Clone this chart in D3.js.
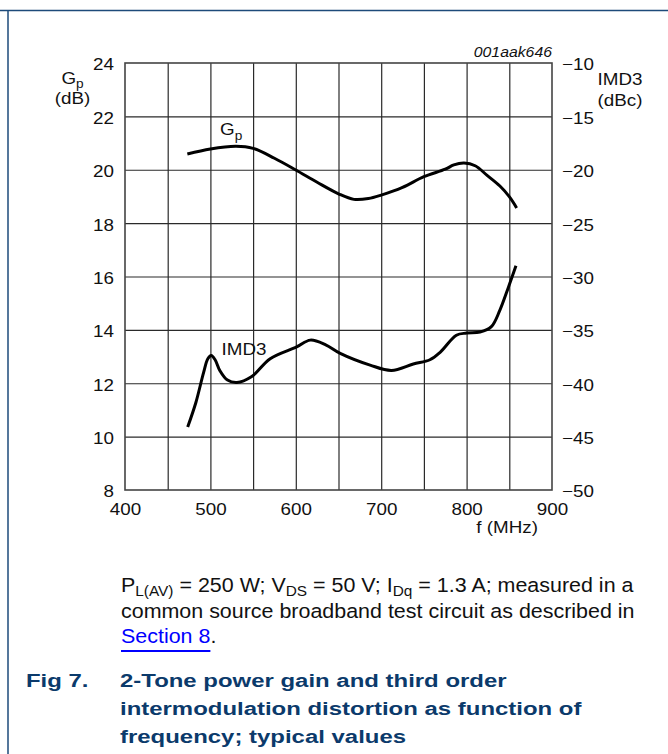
<!DOCTYPE html>
<html>
<head>
<meta charset="utf-8">
<script src="https://cdn.jsdelivr.net/npm/d3@7"></script>
<style>
  body { margin: 0; background: #fff; }
  text { font-family: "Liberation Sans", Arial, sans-serif; fill: #111; }
</style>
</head>
<body>
<div id="chart"></div>
<script>
// axis ticks
var freqTicks = [400, 500, 600, 700, 800, 900];
var freqGrid = [450, 500, 550, 600, 650, 700, 750, 800, 850];
var gpTicks = [8, 10, 12, 14, 16, 18, 20, 22, 24];
var gpGrid = [10, 12, 14, 16, 18, 20, 22];
var imdTicks = [-10, -15, -20, -25, -30, -35, -40, -45, -50];

// Gp (dB) vs f (MHz)
var gpFreq = [473, 500, 530, 550, 575, 600, 625, 650, 668, 685, 700, 725, 750, 775, 785, 797, 810, 824, 839, 850, 858.6];
var gpVal  = [20.59, 20.78, 20.88, 20.8, 20.43, 19.99, 19.53, 19.1, 18.89, 18.92, 19.05, 19.34, 19.74, 20.02, 20.18, 20.25, 20.15, 19.79, 19.39, 18.99, 18.57];

// IMD3 (dBc) vs f (MHz)
var imdFreq = [473.4, 483, 492, 497, 501, 505.5, 511, 520, 531, 548, 570, 601, 617, 635, 652, 687, 712, 737.6, 757, 769, 788, 800, 815.7, 829, 839, 849, 857.8];
var imdVal  = [-44.1, -41.8, -39.0, -37.7, -37.4, -37.8, -38.8, -39.7, -39.93, -39.4, -37.7, -36.6, -35.96, -36.4, -37.2, -38.3, -38.8, -38.2, -37.8, -37.1, -35.5, -35.3, -35.2, -34.7, -33.15, -31.0, -29.0];

var W = 668, H = 754;
var margin = {top: 63, left: 125};
var width = 427, height = 427;
var fs = 16.5, sx = 1.14;   // chart text size and horizontal stretch

var svg = d3.select("#chart").append("svg")
  .attr("width", W).attr("height", H)
  .style("display", "block");

// page frame (blue rules)
svg.append("line").attr("x1", 0).attr("x2", W).attr("y1", 10.5).attr("y2", 10.5)
  .style("stroke", "#1d4a7a").style("stroke-width", 1.5);
svg.append("line").attr("x1", 8).attr("x2", 8).attr("y1", 10.5).attr("y2", H)
  .style("stroke", "#1d4a7a").style("stroke-width", 1.5);

var g = svg.append("g")
  .attr("transform", "translate(" + margin.left + "," + margin.top + ")");

var x = d3.scaleLinear().domain([400, 900]).range([0, width]);
var yL = d3.scaleLinear().domain([8, 24]).range([height, 0]);
var yR = d3.scaleLinear().domain([-50, -10]).range([height, 0]);

// grid
g.append("g")
  .attr("transform", "translate(0," + height + ")")
  .call(d3.axisBottom(x).tickValues(freqGrid).tickSize(-height).tickFormat(""))
  .call(function(a) { a.select(".domain").remove(); })
  .selectAll("line").style("stroke", "#2a2a2a").style("stroke-width", 1.2);
g.append("g")
  .call(d3.axisLeft(yL).tickValues(gpGrid).tickSize(-width).tickFormat(""))
  .call(function(a) { a.select(".domain").remove(); })
  .selectAll("line").style("stroke", "#2a2a2a").style("stroke-width", 1.2);

// frame
g.append("rect").attr("width", width).attr("height", height)
  .style("fill", "none").style("stroke", "#444").style("stroke-width", 1.6);

// tick labels
var minus = function(v) { return String(v).replace("-", "\u2212"); };

var xa = g.append("g")
  .attr("transform", "translate(0," + height + ")")
  .call(d3.axisBottom(x).tickValues(freqTicks).tickSize(0));
xa.select(".domain").remove();
xa.selectAll("text").attr("y", 25.5).attr("dy", 0)
  .attr("transform", "scale(" + sx + ",1)")
  .style("font-size", fs + "px").style("font-family", null);

var la = g.append("g")
  .call(d3.axisLeft(yL).tickValues(gpTicks).tickSize(0));
la.select(".domain").remove();
la.selectAll("text").attr("x", -11 / sx).attr("dy", "0.42em")
  .attr("transform", "scale(" + sx + ",1)")
  .style("font-size", fs + "px").style("font-family", null);

var ra = g.append("g")
  .attr("transform", "translate(" + width + ",0)")
  .call(d3.axisRight(yR).tickValues(imdTicks).tickSize(0).tickFormat(minus));
ra.select(".domain").remove();
ra.selectAll("text").attr("x", 10 / sx).attr("dy", "0.42em")
  .attr("transform", "scale(" + sx + ",1)")
  .style("font-size", fs + "px").style("font-family", null);

// curves
var gpData = gpFreq.map(function(f, i) { return {f: f, v: gpVal[i]}; });
var imdData = imdFreq.map(function(f, i) { return {f: f, v: imdVal[i]}; });

g.append("path").datum(gpData)
  .attr("d", d3.line().x(function(d) { return x(d.f); }).y(function(d) { return yL(d.v); })
    .curve(d3.curveCatmullRom.alpha(0.5)))
  .style("fill", "none").style("stroke", "#000").style("stroke-width", 3);
g.append("path").datum(imdData)
  .attr("d", d3.line().x(function(d) { return x(d.f); }).y(function(d) { return yR(d.v); })
    .curve(d3.curveCatmullRom.alpha(0.5)))
  .style("fill", "none").style("stroke", "#000").style("stroke-width", 3);

// scaled text helper (absolute page coords)
function stext(px, py, s, size) {
  return svg.append("text")
    .attr("transform", "translate(" + px + "," + py + ") scale(" + s + ",1)")
    .style("font-size", size + "px");
}

// axis titles
var t = stext(72.5, 83.5, sx, fs).attr("text-anchor", "middle");
t.append("tspan").text("G");
t.append("tspan").attr("dy", 4).style("font-size", "12px").text("p");
stext(72.5, 104, sx, fs).attr("text-anchor", "middle").text("(dB)");
stext(620, 85, sx, fs).attr("text-anchor", "middle").text("IMD3");
stext(620, 106, sx, fs).attr("text-anchor", "middle").text("(dBc)");
stext(538, 533, sx, fs).attr("text-anchor", "end").text("f (MHz)");
stext(552, 57, 1.13, 14).attr("text-anchor", "end").style("font-style", "italic").text("001aak646");

// curve labels
t = stext(220, 135, sx, fs);
t.append("tspan").text("G");
t.append("tspan").attr("dy", 4.5).style("font-size", "12px").text("p");
stext(221.5, 355, sx, fs).text("IMD3");

// caption
var cs = 1.1, cf = 19.5, sub = 14;
t = stext(121, 591.7, cs, cf);
t.append("tspan").text("P");
t.append("tspan").attr("dy", 4.5).style("font-size", sub + "px").text("L(AV)");
t.append("tspan").attr("dy", -4.5).text(" = 250 W; V");
t.append("tspan").attr("dy", 4.5).style("font-size", sub + "px").text("DS");
t.append("tspan").attr("dy", -4.5).text(" = 50 V; I");
t.append("tspan").attr("dy", 4.5).style("font-size", sub + "px").text("Dq");
t.append("tspan").attr("dy", -4.5).text(" = 1.3 A; measured in a");
stext(121, 618.3, cs, cf).text("common source broadband test circuit as described in");
t = stext(121, 643.3, cs, cf);
var link = t.append("tspan").style("fill", "#0000ff").text("Section 8");
t.append("tspan").text(".");
var linkW = link.node().getComputedTextLength() * cs;
svg.append("line").attr("x1", 121).attr("x2", 121 + linkW).attr("y1", 651).attr("y2", 651)
  .style("stroke", "#0000ff").style("stroke-width", 2);

// figure title
var bs = 1.26, bf = 19;
stext(26, 686.7, bs, bf).style("font-weight", "bold").style("fill", "#0b3a6b").text("Fig 7.");
var titleLines = ["2-Tone power gain and third order", "intermodulation distortion as function of", "frequency; typical values"];
titleLines.forEach(function(s, i) {
  stext(120, 686.7 + i * 28.2, bs, bf).style("font-weight", "bold").style("fill", "#0b3a6b").text(s);
});
</script>
</body>
</html>
